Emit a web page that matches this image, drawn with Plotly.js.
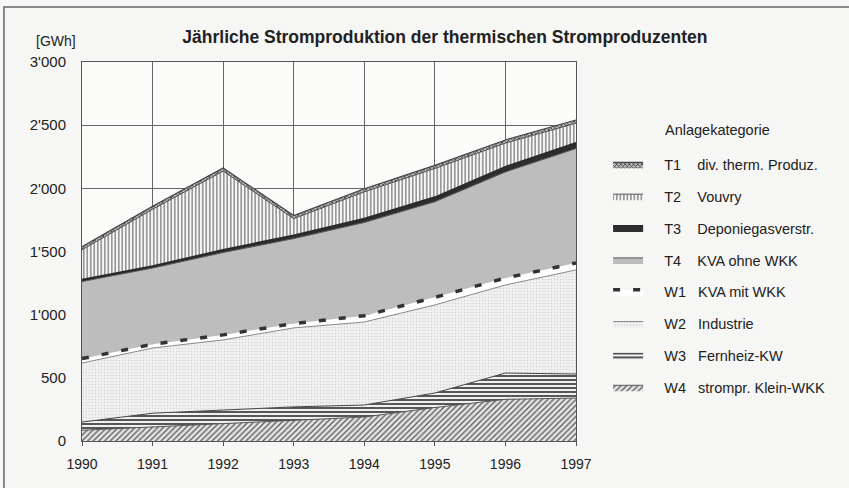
<!DOCTYPE html>
<html>
<head>
<meta charset="utf-8">
<script src="https://cdn.plot.ly/plotly-3.0.1.min.js"></script>
<style>html,body{margin:0;padding:0;background:#f6f6f4;}</style>
</head>
<body>
<div id="chart" style="width:849px;height:488px;"></div>
<script>
const years = [1990, 1991, 1992, 1993, 1994, 1995, 1996, 1997];
// Stacked series, bottom to top (GWh)
const W4 = [85, 110, 140, 165, 190, 265, 330, 340];
const W3 = [65, 110, 105, 105, 95, 115, 208, 190];
const W2 = [467, 516, 555, 625, 657, 697, 697, 824];
const W1 = [35, 30, 40, 35, 50, 60, 55, 55];
const T4 = [610, 603, 652, 672, 738, 757, 840, 906];
const T3 = [15, 15, 20, 25, 30, 35, 40, 45];
const T2 = [236, 450, 624, 133, 212, 228, 188, 156];
const T1 = [25, 25, 25, 25, 25, 25, 25, 25];

const S = '\u00a0';
const pre = S + S + S + S;
const names = {
  T1: pre + 'T1' + S + S + S + S + 'div. therm. Produz.',
  T2: pre + 'T2' + S + S + S + S + 'Vouvry',
  T3: pre + 'T3' + S + S + S + S + 'Deponiegasverstr.',
  T4: pre + 'T4' + S + S + S + S + 'KVA ohne WKK',
  W1: pre + 'W1' + S + S + S + 'KVA mit WKK',
  W2: pre + 'W2' + S + S + S + 'Industrie',
  W3: pre + 'W3' + S + S + S + 'Fernheiz-KW',
  W4: pre + 'W4' + S + S + S + 'strompr. Klein-WKK'
};
const ranks = {T1: 1, T2: 2, T3: 3, T4: 4, W1: 5, W2: 6, W3: 7, W4: 8};

function tr(key, vals, line, fill) {
  const t = {
    x: years, y: vals, name: names[key], type: 'scatter', mode: 'lines',
    stackgroup: 'one', legendgroup: key, legendrank: ranks[key],
    line: line, hoverinfo: 'skip'
  };
  Object.assign(t, fill);
  return t;
}

const data = [
  tr('W4', W4, {color: '#555', width: 1},
     {fillcolor: '#e2e2e2', fillpattern: {shape: '/', size: 4, solidity: 0.3, fgcolor: '#555', bgcolor: '#e4e4e4'}}),
  tr('W3', W3, {color: '#444', width: 1},
     {fillcolor: '#eee', fillpattern: {shape: '-', size: 4, solidity: 0.45, fgcolor: '#444', bgcolor: '#f0f0f0'}}),
  tr('W2', W2, {color: '#888', width: 1},
     {fillcolor: '#eeeeee', fillpattern: {shape: '.', size: 3, solidity: 0.15, fgcolor: '#d0d0d0', bgcolor: '#f1f1f1'}}),
  tr('W1', W1, {color: '#333', width: 3.5, dash: '7px,13px'},
     {fillcolor: '#ffffff'}),
  tr('T4', T4, {color: '#555', width: 1},
     {fillcolor: '#bdbdbd'}),
  tr('T3', T3, {color: '#2a2a2a', width: 2},
     {fillcolor: '#2e2e2e'}),
  tr('T2', T2, {color: '#555', width: 1},
     {fillcolor: '#fafafa', fillpattern: {shape: '|', size: 3.5, solidity: 0.3, fgcolor: '#555', bgcolor: '#fafafa'}}),
  tr('T1', T1, {color: '#444', width: 1.2},
     {fillcolor: '#999', fillpattern: {shape: 'x', size: 3, solidity: 0.45, fgcolor: '#333', bgcolor: '#bdbdbd'}})
];

const font = 'Liberation Sans, Arial, sans-serif';

const layout = {
  width: 849, height: 488,
  margin: {l: 82, r: 273, t: 62, b: 47},
  paper_bgcolor: '#f6f6f4',
  plot_bgcolor: '#fbfbfa',
  separators: ".'",
  font: {family: font, size: 14, color: '#222'},
  showlegend: true,
  title: {
    text: '<b>Jährliche Stromproduktion der thermischen Stromproduzenten</b>',
    font: {family: font, size: 17.5, color: '#222'},
    x: 0.524, xanchor: 'center', y: 0.925, yanchor: 'middle'
  },
  xaxis: {
    range: [1990, 1997], tickvals: years, ticktext: years.map(String),
    showgrid: true, gridcolor: '#666', gridwidth: 1,
    showline: true, linecolor: '#555', linewidth: 1, mirror: true,
    ticks: 'outside', ticklen: 4, tickcolor: '#555',
    ticklabelstandoff: 6, zeroline: false,
    tickfont: {family: font, size: 14, color: '#222'}
  },
  yaxis: {
    range: [0, 3000], dtick: 500, tick0: 0, tickformat: ',d',
    showgrid: true, gridcolor: '#666', gridwidth: 1,
    showline: true, linecolor: '#555', linewidth: 1, mirror: true,
    ticks: '', ticklabelstandoff: 12, zeroline: false,
    tickfont: {family: font, size: 15, color: '#222'}
  },
  legend: {
    x: 1.065, xanchor: 'left', y: 0.772, yanchor: 'top',
    traceorder: 'grouped', tracegroupgap: 10,
    bgcolor: 'rgba(0,0,0,0)', itemwidth: 30,
    font: {family: font, size: 14.5, color: '#222'}
  },
  annotations: [
    {text: '[GWh]', xref: 'paper', yref: 'paper', x: -0.097, y: 1.055,
     xanchor: 'left', yanchor: 'middle', showarrow: false,
     font: {family: font, size: 14, color: '#222'}},
    {text: 'Anlagekategorie', xref: 'paper', yref: 'paper', x: 1.176, y: 0.8206,
     xanchor: 'left', yanchor: 'middle', showarrow: false,
     font: {family: font, size: 14.5, color: '#222'}}
  ],
  shapes: [
    {type: 'rect', xref: 'paper', yref: 'paper', x0: -0.158, x1: 1.7, y0: -0.3, y1: 1.145,
     line: {color: '#666', width: 1.5}, fillcolor: 'rgba(0,0,0,0)', layer: 'below'}
  ]
};

Plotly.newPlot('chart', data, layout, {displayModeBar: false, staticPlot: true});
</script>
</body>
</html>
